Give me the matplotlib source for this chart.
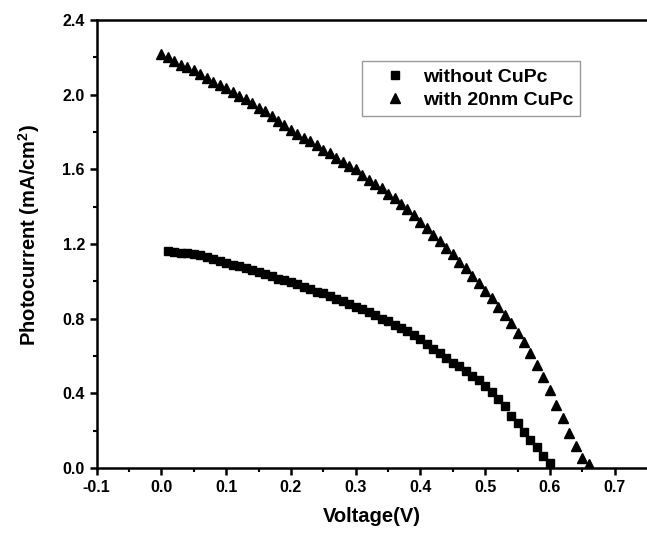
import numpy as np
import matplotlib
matplotlib.use("Agg")
import matplotlib.pyplot as plt

plt.rcParams['font.family'] = ['Liberation Sans', 'DejaVu Sans']
plt.rcParams['font.weight'] = 'bold'
plt.rcParams['axes.unicode_minus'] = False
plt.rcParams['mathtext.fontset'] = 'custom'
plt.rcParams['mathtext.rm'] = 'Liberation Sans'
plt.rcParams['mathtext.it'] = 'Liberation Sans'

# --- Data ---
v_cupc = [0.00, 0.01, 0.02, 0.03, 0.04, 0.05, 0.06, 0.07, 0.08, 0.09,
          0.10, 0.11, 0.12, 0.13, 0.14, 0.15, 0.16, 0.17, 0.18, 0.19,
          0.20, 0.21, 0.22, 0.23, 0.24, 0.25, 0.26, 0.27, 0.28, 0.29,
          0.30, 0.31, 0.32, 0.33, 0.34, 0.35, 0.36, 0.37, 0.38, 0.39,
          0.40, 0.41, 0.42, 0.43, 0.44, 0.45, 0.46, 0.47, 0.48, 0.49,
          0.50, 0.51, 0.52, 0.53, 0.54, 0.55, 0.56, 0.57, 0.58, 0.59,
          0.60, 0.61, 0.62, 0.63, 0.64, 0.65, 0.66]
i_cupc = [2.22, 2.20, 2.18, 2.16, 2.15, 2.13, 2.11, 2.09, 2.07, 2.05,
          2.035, 2.015, 1.995, 1.975, 1.955, 1.93, 1.91, 1.885, 1.86, 1.835,
          1.81, 1.79, 1.77, 1.75, 1.73, 1.705, 1.685, 1.66, 1.64, 1.62,
          1.60, 1.57, 1.545, 1.52, 1.50, 1.47, 1.445, 1.415, 1.385, 1.355,
          1.32, 1.285, 1.25, 1.215, 1.18, 1.145, 1.105, 1.07, 1.03, 0.99,
          0.95, 0.91, 0.865, 0.82, 0.775, 0.725, 0.676, 0.614, 0.552, 0.486,
          0.418, 0.337, 0.266, 0.186, 0.118, 0.052, 0.02]

v_bare = [0.01, 0.02, 0.03, 0.04, 0.05, 0.06, 0.07, 0.08, 0.09, 0.10,
          0.11, 0.12, 0.13, 0.14, 0.15, 0.16, 0.17, 0.18, 0.19, 0.20,
          0.21, 0.22, 0.23, 0.24, 0.25, 0.26, 0.27, 0.28, 0.29, 0.30,
          0.31, 0.32, 0.33, 0.34, 0.35, 0.36, 0.37, 0.38, 0.39, 0.40,
          0.41, 0.42, 0.43, 0.44, 0.45, 0.46, 0.47, 0.48, 0.49, 0.50,
          0.51, 0.52, 0.53, 0.54, 0.55, 0.56, 0.57, 0.58, 0.59, 0.60]
i_bare = [1.16, 1.155, 1.15, 1.15, 1.145, 1.14, 1.13, 1.12, 1.11, 1.10,
          1.09, 1.08, 1.07, 1.06, 1.05, 1.04, 1.03, 1.015, 1.005, 0.995,
          0.985, 0.97, 0.96, 0.945, 0.935, 0.92, 0.905, 0.895, 0.88, 0.865,
          0.85, 0.835, 0.82, 0.80, 0.785, 0.765, 0.75, 0.735, 0.715, 0.69,
          0.665, 0.64, 0.615, 0.59, 0.565, 0.545, 0.52, 0.495, 0.47, 0.44,
          0.405, 0.37, 0.33, 0.28, 0.24, 0.195, 0.15, 0.11, 0.065, 0.025]

x_ticks = [-0.1, 0.0, 0.1, 0.2, 0.3, 0.4, 0.5, 0.6, 0.7]
y_ticks = [0.0, 0.4, 0.8, 1.2, 1.6, 2.0, 2.4]

# --- Plotting ---
fig = plt.figure(figsize=(6.47, 5.33), dpi=100)
ax = fig.add_axes([0.1495, 0.122, 0.8505, 0.8405])

ax.plot(v_bare, i_bare, linestyle='none', marker='s', markersize=5.5,
        color='black', label='without CuPc')
ax.plot(v_cupc, i_cupc, linestyle='none', marker='^', markersize=7,
        color='black', label='with 20nm CuPc')

ax.set_xlim(-0.1, 0.75)
ax.set_ylim(0.0, 2.4)
ax.set_xticks(x_ticks)
ax.set_xticks(np.arange(-0.05, 0.75, 0.1), minor=True)
ax.set_yticks(y_ticks)
ax.set_yticks(np.arange(0.2, 2.4, 0.4), minor=True)
ax.set_xticklabels([f'{t:.1f}' for t in x_ticks])
ax.set_yticklabels([f'{t:.1f}' for t in y_ticks])

for s in ['left', 'bottom', 'top']:
    ax.spines[s].set_linewidth(1.8)
ax.spines['right'].set_visible(False)

ax.tick_params(which='major', direction='out', length=5, width=1.8,
               labelsize=11.5, pad=3.5)
ax.tick_params(which='minor', direction='out', length=3, width=1.5)
ax.tick_params(top=False, right=False, which='both')

ax.set_xlabel('Voltage(V)', fontsize=14.5, fontweight='bold', labelpad=9)
ax.set_ylabel('Photocurrent (mA/cm$^{2}$)', fontsize=14.5, fontweight='bold')
ax.yaxis.set_label_coords(-0.100, 0.52)

leg = ax.legend(loc='upper left', bbox_to_anchor=(0.482, 0.908),
                fontsize=14, frameon=True, fancybox=False,
                edgecolor='gray', handlelength=2.7, handletextpad=0.1,
                borderpad=0.35, labelspacing=0.3, borderaxespad=0)
leg.get_frame().set_linewidth(1.0)

fig.savefig('out.png', dpi=100)
